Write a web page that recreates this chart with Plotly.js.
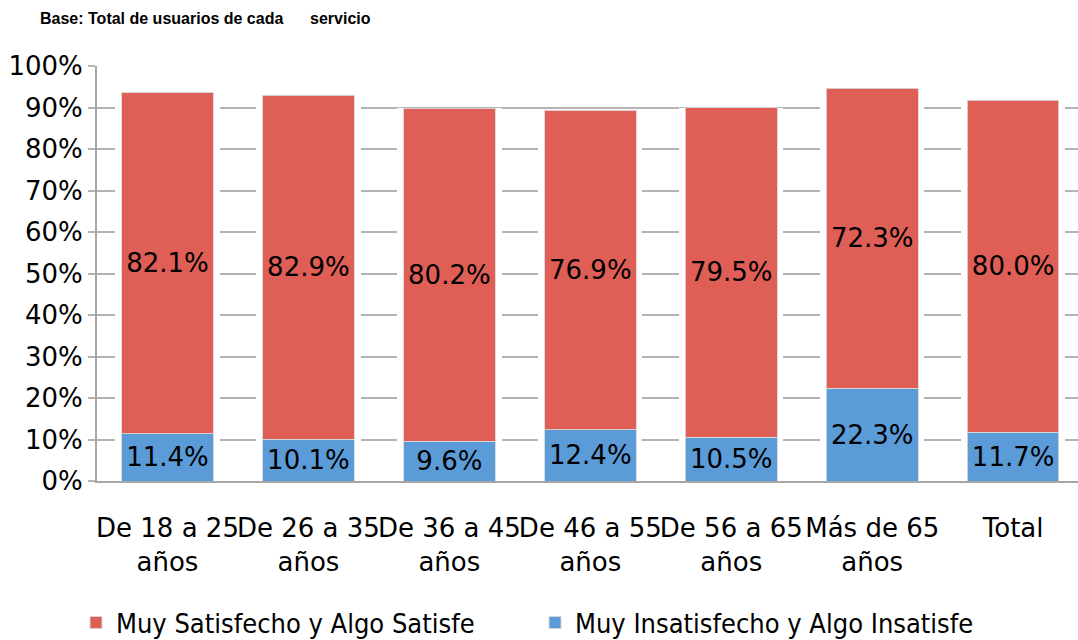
<!DOCTYPE html>
<html>
<head>
<meta charset="utf-8">
<script src="https://cdn.plot.ly/plotly-3.0.1.min.js"></script>
<style>html,body{margin:0;padding:0;background:#fff;}#chart{width:1078px;height:640px;}</style>
</head>
<body>
<div id="chart"></div>
<script>
const categories = ["De 18 a 25<br>años", "De 26 a 35<br>años", "De 36 a 45<br>años", "De 46 a 55<br>años", "De 56 a 65<br>años", "Más de 65<br>años", "Total"];
const insatisfecho = [11.4, 10.1, 9.6, 12.4, 10.5, 22.3, 11.7];
const satisfecho = [82.1, 82.9, 80.2, 76.9, 79.5, 72.3, 80.0];
const seriesNames = ["Muy Satisfecho y Algo Satisfe", "Muy Insatisfecho y Algo Insatisfe"];
const yTicks = [0, 10, 20, 30, 40, 50, 60, 70, 80, 90, 100];

const font = "DejaVu Sans, Verdana, sans-serif";
const idx = categories.map((c, i) => i);
const totals = insatisfecho.map((v, i) => v + satisfecho[i]);

// white halo behind the bars (gridlines stop short of the bars)
const traceHalo = {
  type: "bar", x: idx, y: totals, xaxis: "x", yaxis: "y",
  marker: {color: "#fff", line: {width: 0}}, width: 0.74,
  showlegend: false, hoverinfo: "skip"
};
const traceIns = {
  type: "bar", x: idx, y: insatisfecho, name: seriesNames[1], xaxis: "x2", yaxis: "y",
  marker: {color: "#5B9BD8", line: {color: "rgba(215,215,215,0.9)", width: 1}},
  text: insatisfecho.map(v => v.toFixed(1) + "%"), textposition: "inside",
  insidetextanchor: "middle", constraintext: "none",
  textfont: {family: font, size: 26, color: "#000"}, width: 0.65, hoverinfo: "skip"
};
const traceSat = {
  type: "bar", x: idx, y: satisfecho, name: seriesNames[0], xaxis: "x2", yaxis: "y",
  marker: {color: "#DF5E56", line: {color: "rgba(215,215,215,0.9)", width: 1}},
  text: satisfecho.map(v => v.toFixed(1) + "%"), textposition: "inside",
  insidetextanchor: "middle", constraintext: "none",
  textfont: {family: font, size: 26, color: "#000"}, width: 0.65, hoverinfo: "skip"
};

const xRange = [-0.5, 6.46];
const layout = {
  width: 1078, height: 640,
  margin: {l: 97, r: 0, t: 66, b: 159, autoexpand: false},
  paper_bgcolor: "#fff", plot_bgcolor: "#fff",
  barmode: "stack",
  showlegend: true,
  title: {
    text: "<b>Base: Total de usuarios de cada\u00a0\u00a0\u00a0\u00a0\u00a0 servicio</b>",
    font: {family: "Liberation Sans, Arial, sans-serif", size: 16, color: "#000"},
    x: 40/1078, xanchor: "left", xref: "container",
    y: 1 - 18/640, yanchor: "middle", yref: "container"
  },
  xaxis: {
    range: xRange, tickmode: "array", tickvals: idx, ticktext: categories,
    tickangle: 0, tickfont: {family: font, size: 26, color: "#000"},
    showgrid: false, showline: true, linecolor: "#A6A6A6", linewidth: 2,
    ticks: "", ticklabelstandoff: 23, fixedrange: true, automargin: false
  },
  xaxis2: {
    range: xRange, overlaying: "x", anchor: "y", visible: false, fixedrange: true
  },
  yaxis: {
    range: [0, 100], tickmode: "array", tickvals: yTicks,
    ticktext: yTicks.map(v => v + "%"),
    tickfont: {family: font, size: 26, color: "#000"},
    showgrid: true, gridcolor: "#B4B4B4", gridwidth: 2,
    showline: true, linecolor: "#A6A6A6", linewidth: 2,
    ticks: "outside", ticklen: 7, tickcolor: "#B4B4B4", tickwidth: 2,
    zeroline: false, fixedrange: true, automargin: false
  },
  legend: {
    orientation: "h", x: 76/1078, xref: "container", xanchor: "left",
    y: (481 - 623) / 415, yanchor: "middle",
    itemwidth: 30,
    entrywidth: 414, entrywidthmode: "pixels",
    traceorder: "reversed",
    font: {family: "DejaVu Sans Condensed, DejaVu Sans, sans-serif", size: 27, color: "#000"}
  }
};

Plotly.newPlot("chart", [traceHalo, traceIns, traceSat], layout, {displayModeBar: false, staticPlot: true});
</script>
</body>
</html>
